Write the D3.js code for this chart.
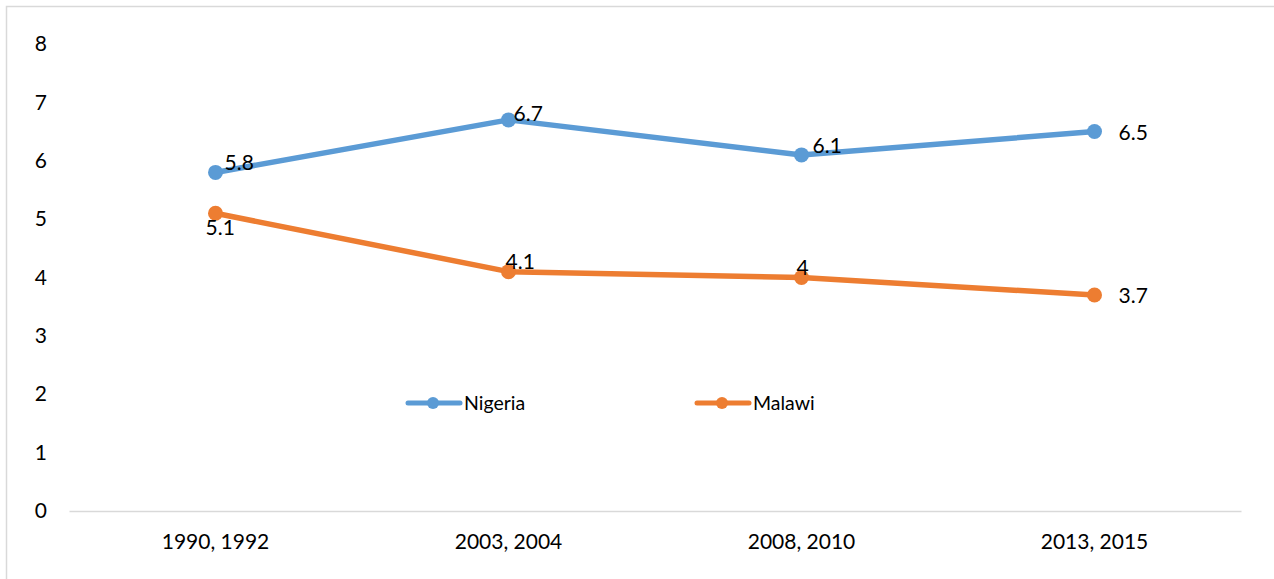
<!DOCTYPE html>
<html><head><meta charset="utf-8">
<script src="https://cdn.jsdelivr.net/npm/d3@7"></script>
<style>html,body{margin:0;padding:0;background:#fff;}svg{display:block;}</style>
</head><body>
<svg id="chart" width="1274" height="579"></svg>
<script>
const categories = ["1990, 1992", "2003, 2004", "2008, 2010", "2013, 2015"];
const nigeria = [5.8, 6.7, 6.1, 6.5];
const malawi = [5.1, 4.1, 4.0, 3.7];
const yTicks = [0, 1, 2, 3, 4, 5, 6, 7, 8];
const seriesNames = ["Nigeria", "Malawi"];

const W = 1274, H = 579;
const svg = d3.select("#chart");
const FONT = "Lato, 'Open Sans', sans-serif";

// frame
svg.append("rect").attr("x", 6.5).attr("y", 6.5).attr("width", W + 10).attr("height", H + 10)
  .attr("fill", "#fff").attr("stroke", "#d9d9d9").attr("stroke-width", 1.5);

const x = d3.scaleBand().domain(categories).range([69, 1241]);
const y = d3.scaleLinear().domain([0, 8]).range([511, 44]);

// x axis
const xAxis = svg.append("g").attr("transform", "translate(0,511)")
  .call(d3.axisBottom(x).tickSize(0).tickPadding(23));
xAxis.select(".domain").attr("stroke", "#d9d9d9").attr("stroke-width", 1.5);
xAxis.selectAll("text").attr("font-family", FONT).attr("font-size", 21).attr("fill", "#000");

// y axis labels
const yAxis = svg.append("g").attr("transform", "translate(47,0)")
  .call(d3.axisLeft(y).tickValues(yTicks).tickSize(0).tickPadding(0).tickFormat(d3.format("d")));
yAxis.select(".domain").remove();
yAxis.selectAll("text").attr("font-family", FONT).attr("font-size", 21).attr("fill", "#000");

const colors = ["#5B9BD5", "#ED7D31"];
const data = [nigeria, malawi];
const cx = (i) => x(categories[i]) + x.bandwidth() / 2;

const line = d3.line().x((d, i) => cx(i)).y(d => y(d));

// label placements: [dx, dy] relative to point
const labelPlace = [
  [[9, -10], [5, -6], [11, -9], [24, 1]],
  [[-10, 14], [-3, -10], [-5, -10], [24, 1]]
];

data.forEach((vals, s) => {
  svg.append("path").datum(vals).attr("d", line).attr("fill", "none")
    .attr("stroke", colors[s]).attr("stroke-width", 5.5).attr("stroke-linejoin", "round").attr("stroke-linecap", "round");
  svg.selectAll(null).data(vals).enter().append("circle")
    .attr("cx", (d, i) => cx(i)).attr("cy", d => y(d)).attr("r", 7.5).attr("fill", colors[s]);
  svg.selectAll(null).data(vals).enter().append("text")
    .attr("x", (d, i) => cx(i) + labelPlace[s][i][0])
    .attr("y", (d, i) => y(d) + labelPlace[s][i][1])
    .attr("dy", "0.35em")
    .attr("font-family", FONT).attr("font-size", 21).attr("fill", "#000")
    .text(d => d3.format("")(d));
});

// legend
const legendX = [406, 695];
const legendY = 403;
seriesNames.forEach((name, s) => {
  const g = svg.append("g").attr("transform", `translate(${legendX[s]},${legendY})`);
  g.append("line").attr("x1", 2).attr("x2", 54).attr("y1", 0).attr("y2", 0)
    .attr("stroke", colors[s]).attr("stroke-width", 5).attr("stroke-linecap", "round");
  g.append("circle").attr("cx", 27).attr("cy", 0).attr("r", 6).attr("fill", colors[s]);
  g.append("text").attr("x", 58).attr("y", 0).attr("dy", "0.35em")
    .attr("font-family", FONT).attr("font-size", 19.5).attr("fill", "#000").text(name);
});
</script>
</body></html>
